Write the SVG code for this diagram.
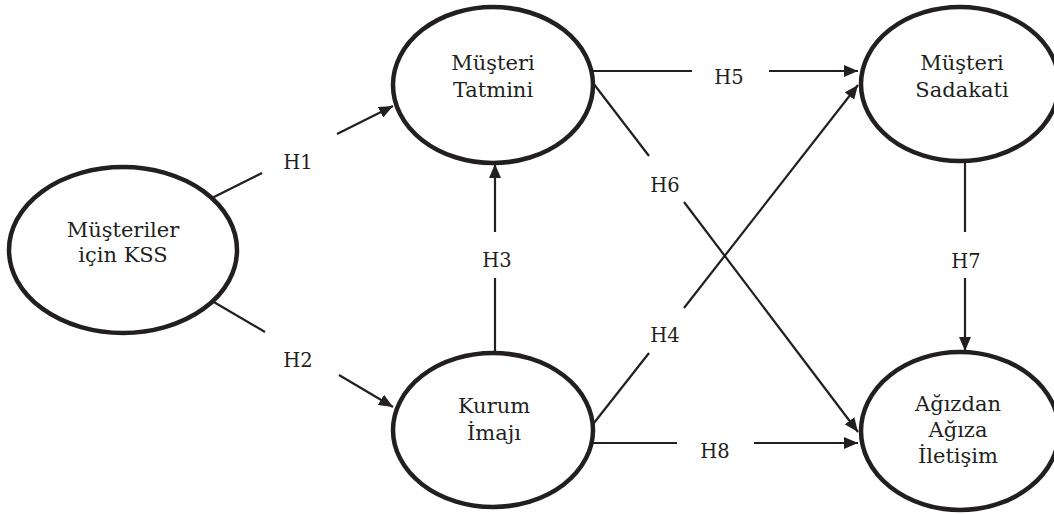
<svg xmlns="http://www.w3.org/2000/svg" width="1054" height="514" viewBox="0 0 1054 514">
<style>
.bg{fill:#ffffff}
.node{fill:#ffffff;stroke:#231f20;stroke-width:4.5}
.edge{stroke:#231f20;stroke-width:2.2;fill:none}
.nt{font-family:"DejaVu Serif",serif;font-size:21px;fill:#231f20;text-anchor:middle}
.lb{font-family:"DejaVu Serif",serif;font-size:19.5px;fill:#231f20;text-anchor:middle}
</style>
<defs>
<marker id="arr" viewBox="0 0 14 12" refX="14" refY="6" markerWidth="14" markerHeight="12" markerUnits="userSpaceOnUse" orient="auto">
<path d="M0,0 L14,6 L0,12 Z" fill="#231f20"/>
</marker>
</defs>
<rect class="bg" x="0" y="0" width="1054" height="514"/>
<g id="connectors">
<g id="e-h1">
<line class="edge" x1="208" y1="200" x2="262" y2="173"/>
<line class="edge" x1="337" y1="134" x2="393" y2="106" marker-end="url(#arr)"/>
<text class="lb" x="298" y="169">H1</text>
</g>
<g id="e-h2">
<line class="edge" x1="207" y1="298" x2="265" y2="332"/>
<line class="edge" x1="339" y1="375" x2="393" y2="407" marker-end="url(#arr)"/>
<text class="lb" x="298" y="367">H2</text>
</g>
<g id="e-h3">
<line class="edge" x1="495" y1="356" x2="495" y2="278"/>
<line class="edge" x1="495" y1="232" x2="495" y2="164" marker-end="url(#arr)"/>
<text class="lb" x="497" y="267">H3</text>
</g>
<g id="e-h4">
<line class="edge" x1="590" y1="428" x2="649" y2="353"/>
<line class="edge" x1="684" y1="308" x2="858" y2="85" marker-end="url(#arr)"/>
<text class="lb" x="665" y="342">H4</text>
</g>
<g id="e-h5">
<line class="edge" x1="590" y1="71" x2="692" y2="71"/>
<line class="edge" x1="769" y1="71" x2="858" y2="71" marker-end="url(#arr)"/>
<text class="lb" x="729" y="84">H5</text>
</g>
<g id="e-h6">
<line class="edge" x1="590" y1="79" x2="649" y2="156"/>
<line class="edge" x1="684" y1="202" x2="858" y2="432" marker-end="url(#arr)"/>
<text class="lb" x="665" y="192">H6</text>
</g>
<g id="e-h7">
<line class="edge" x1="965" y1="160" x2="965" y2="232"/>
<line class="edge" x1="965" y1="278" x2="965" y2="351" marker-end="url(#arr)"/>
<text class="lb" x="966" y="268">H7</text>
</g>
<g id="e-h8">
<line class="edge" x1="590" y1="443" x2="677" y2="443"/>
<line class="edge" x1="754" y1="443" x2="858" y2="443" marker-end="url(#arr)"/>
<text class="lb" x="715" y="458">H8</text>
</g>
</g>
<g id="n-kss">
<ellipse class="node" cx="123" cy="250" rx="114" ry="83"/>
<text class="nt" x="123" y="237">Müşteriler</text>
<text class="nt" x="123" y="262">için KSS</text>
</g>
<g id="n-tatmin">
<ellipse class="node" cx="493" cy="85" rx="100" ry="78"/>
<text class="nt" x="493" y="70">Müşteri</text>
<text class="nt" x="493" y="97">Tatmini</text>
</g>
<g id="n-imaj">
<ellipse class="node" cx="493" cy="430" rx="100" ry="77"/>
<text class="nt" x="494" y="413">Kurum</text>
<text class="nt" x="494" y="440">İmajı</text>
</g>
<g id="n-sadakat">
<ellipse class="node" cx="960" cy="84" rx="99" ry="77"/>
<text class="nt" x="962" y="70">Müşteri</text>
<text class="nt" x="962" y="97">Sadakati</text>
</g>
<g id="n-agiz">
<ellipse class="node" cx="960" cy="431" rx="99" ry="79"/>
<text class="nt" x="958" y="411">Ağızdan</text>
<text class="nt" x="958" y="437">Ağıza</text>
<text class="nt" x="958" y="463">İletişim</text>
</g>
</svg>
